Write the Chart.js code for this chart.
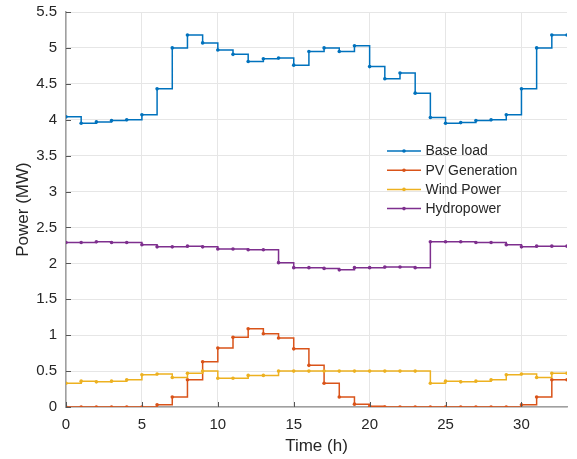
<!DOCTYPE html>
<html>
<head>
<meta charset="utf-8">
<script src="https://cdn.jsdelivr.net/npm/chart.js@4/dist/chart.umd.min.js"></script>
<style>
  html, body { margin: 0; padding: 0; background: #fff; }
  #wrap { width: 577px; height: 459px; position: relative; }
</style>
</head>
<body>
<div id="wrap"><canvas id="powerChart" width="577" height="459"></canvas></div>
<script>
// hours (h)
var hours = [0, 1, 2, 3, 4, 5, 6, 7, 8, 9, 10, 11, 12, 13, 14, 15, 16,
             17, 18, 19, 20, 21, 22, 23, 24, 25, 26, 27, 28, 29, 30, 31, 32, 33];

// power values (MW)
var baseLoad = [4.04, 3.95, 3.97, 3.99, 4.00, 4.07, 4.43, 5.00, 5.18, 5.07, 4.97, 4.91, 4.81, 4.85, 4.86, 4.76, 4.95,
                5.00, 4.95, 5.03, 4.74, 4.57, 4.65, 4.37, 4.03, 3.95, 3.96, 3.99, 4.00, 4.07, 4.43, 5.00, 5.18, 5.18];
var pvGeneration = [0, 0, 0, 0, 0, 0, 0.03, 0.14, 0.38, 0.63, 0.82, 0.97, 1.09, 1.02, 0.96, 0.81, 0.58,
                    0.33, 0.14, 0.04, 0.01, 0, 0, 0, 0, 0, 0, 0, 0, 0, 0.03, 0.14, 0.38, 0.38];
var windPower = [0.33, 0.36, 0.35, 0.36, 0.38, 0.45, 0.46, 0.41, 0.47, 0.50, 0.40, 0.40, 0.44, 0.44, 0.50, 0.50, 0.50,
                 0.50, 0.50, 0.50, 0.50, 0.50, 0.50, 0.50, 0.33, 0.36, 0.35, 0.36, 0.38, 0.45, 0.46, 0.41, 0.47, 0.47];
var hydropower = [2.29, 2.29, 2.30, 2.29, 2.29, 2.26, 2.23, 2.23, 2.24, 2.23, 2.20, 2.20, 2.19, 2.19, 2.01, 1.94, 1.94,
                  1.93, 1.91, 1.94, 1.94, 1.95, 1.95, 1.94, 2.30, 2.30, 2.30, 2.29, 2.29, 2.26, 2.23, 2.24, 2.24, 2.24];

var seriesNames = ["Base load", "PV Generation", "Wind Power", "Hydropower"];
var seriesColors = ["#0072BD", "#D95319", "#EDB120", "#7E2F8E"];
var seriesValues = [baseLoad, pvGeneration, windPower, hydropower];

var xTicks = [0, 5, 10, 15, 20, 25, 30];

var fontName = "'Liberation Sans', Arial, Helvetica, sans-serif";
var textColor = "#262626";

function toPoints(values) {
    return hours.map(function (h, i) { return { x: h, y: values[i] }; });
}

var datasets = seriesNames.map(function (name, i) {
    return {
        label: name,
        data: toPoints(seriesValues[i]),
        borderColor: seriesColors[i],
        backgroundColor: seriesColors[i],
        borderWidth: 1.5,
        pointRadius: 1.8,
        pointBorderWidth: 0,
        pointHoverRadius: 1.8,
        stepped: true,
        fill: false,
        order: seriesNames.length - i
    };
});

// legend drawn inside the axes, without a frame
var insideLegend = {
    id: "insideLegend",
    afterDraw: function (chart) {
        var ctx = chart.ctx;
        var area = chart.chartArea;
        var x0 = area.left + 321;
        var y0 = area.top + 139;
        ctx.save();
        ctx.font = "14px " + fontName;
        ctx.textBaseline = "middle";
        seriesNames.forEach(function (name, i) {
            var y = y0 + i * 19.2;
            ctx.strokeStyle = seriesColors[i];
            ctx.lineWidth = 1.5;
            ctx.beginPath();
            ctx.moveTo(x0, y);
            ctx.lineTo(x0 + 34, y);
            ctx.stroke();
            ctx.fillStyle = seriesColors[i];
            ctx.beginPath();
            ctx.arc(x0 + 17, y, 1.8, 0, Math.PI * 2);
            ctx.fill();
            ctx.fillStyle = textColor;
            ctx.fillText(name, x0 + 38.5, y + 0.5);
        });
        ctx.restore();
    }
};

// small inward tick marks like the original axes
var inwardTicks = {
    id: "inwardTicks",
    afterDraw: function (chart) {
        var ctx = chart.ctx;
        var area = chart.chartArea;
        var xs = chart.scales.x;
        var ys = chart.scales.y;
        ctx.save();
        ctx.strokeStyle = "#555";
        ctx.lineWidth = 1;
        ctx.beginPath();
        ys.ticks.forEach(function (t) {
            var p = Math.round(ys.getPixelForValue(t.value)) + 0.5;
            ctx.moveTo(area.left, p);
            ctx.lineTo(area.left + 5, p);
        });
        xs.ticks.forEach(function (t) {
            var p = Math.round(xs.getPixelForValue(t.value)) + 0.5;
            ctx.moveTo(p, area.bottom);
            ctx.lineTo(p, area.bottom - 5);
        });
        ctx.stroke();
        ctx.restore();
    }
};

var ctx = document.getElementById("powerChart").getContext("2d");
var powerChart = new Chart(ctx, {
    type: "line",
    data: { datasets: datasets },
    options: {
        responsive: false,
        animation: false,
        events: [],
        layout: { padding: { top: 12, right: 10, bottom: 0, left: 0 } },
        plugins: {
            legend: { display: false },
            tooltip: { enabled: false }
        },
        scales: {
            x: {
                type: "linear",
                min: 0,
                max: 33,
                afterFit: function (scale) {
                    scale.height = 52;
                    scale.paddingLeft = 0;
                    scale.paddingRight = 0;
                },
                afterBuildTicks: function (scale) {
                    scale.ticks = xTicks.map(function (v) { return { value: v }; });
                },
                grid: { color: "#e6e6e6", drawTicks: false },
                border: { color: "#a0a0a0", width: 1.5 },
                ticks: {
                    color: textColor,
                    padding: 9,
                    maxRotation: 0,
                    font: { family: fontName, size: 15 }
                },
                title: {
                    display: true,
                    text: "Time (h)",
                    color: textColor,
                    padding: { top: 0, bottom: 2 },
                    font: { family: fontName, size: 17 }
                }
            },
            y: {
                min: 0,
                max: 5.5,
                afterFit: function (scale) {
                    scale.width = 66;
                    scale.paddingTop = 0;
                    scale.paddingBottom = 0;
                },
                grid: { color: "#e6e6e6", drawTicks: false },
                border: { color: "#a0a0a0", width: 1.5 },
                ticks: {
                    stepSize: 0.5,
                    color: textColor,
                    padding: 9,
                    font: { family: fontName, size: 15 },
                    callback: function (v) { return String(Math.round(v * 10) / 10); }
                },
                title: {
                    display: true,
                    text: "Power (MW)",
                    color: textColor,
                    padding: { top: 13, bottom: 0 },
                    font: { family: fontName, size: 17 }
                }
            }
        }
    },
    plugins: [insideLegend, inwardTicks]
});
</script>
</body>
</html>
